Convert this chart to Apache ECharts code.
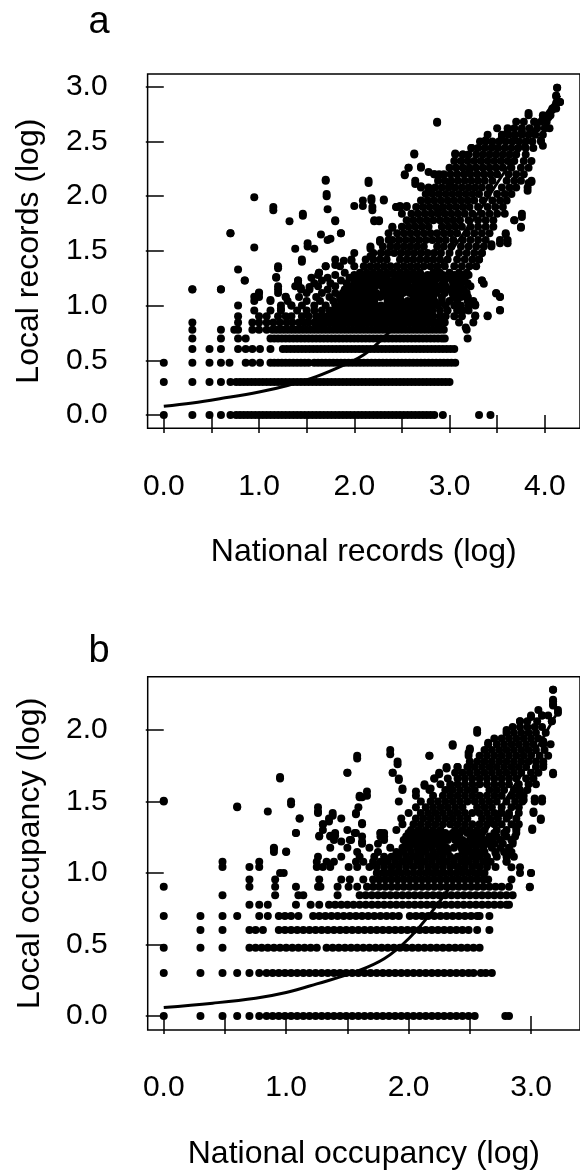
<!DOCTYPE html>
<html><head><meta charset="utf-8">
<script src="https://cdn.jsdelivr.net/npm/echarts@6.0.0/dist/echarts.min.js"></script>
<style>html,body{margin:0;padding:0;background:#fff}#c{width:580px;height:1171px}</style>
</head><body><div id="c"></div>
<script>
// ---- axis ticks / labels ----
const A_X_TICKS = [0, 0.5, 1, 1.5, 2, 2.5, 3, 3.5, 4];
const A_X_LABELS = [0, 1, 2, 3, 4];
const A_Y_TICKS = [0, 0.5, 1, 1.5, 2, 2.5, 3];
const B_X_TICKS = [0, 0.5, 1, 1.5, 2, 2.5, 3];
const B_X_LABELS = [0, 1, 2, 3];
const B_Y_TICKS = [0, 0.5, 1, 1.5, 2];

// ---- panel a: local records (y level) vs national records (x values) ----
const A_LEVELS = [
 [0, [0,0.30,0.48,0.60,0.70,0.76,0.80,0.84,0.88,0.92,0.96,1.00,1.04,1.08,1.12,1.16,1.20,1.24,1.28,1.32,1.36,1.40,1.44,1.48,1.52,1.56,1.60,1.64,1.68,1.72,1.76,1.80,1.84,1.88,1.92,1.96,2.00,2.04,2.08,2.12,2.16,2.20,2.24,2.28,2.32,2.36,2.40,2.44,2.48,2.52,2.56,2.60,2.64,2.68,2.72,2.76,2.80,2.84,2.93,3.31,3.43]],
 [0.301, [0,0.30,0.48,0.60,0.70,0.76,0.80,0.84,0.88,0.92,0.96,1.00,1.04,1.08,1.12,1.16,1.20,1.24,1.28,1.32,1.36,1.40,1.44,1.48,1.52,1.56,1.60,1.64,1.68,1.72,1.76,1.80,1.84,1.88,1.92,1.96,2.00,2.04,2.08,2.12,2.16,2.20,2.24,2.28,2.32,2.36,2.40,2.44,2.48,2.52,2.56,2.60,2.64,2.68,2.72,2.76,2.80,2.84,2.88,2.92,2.96,3.00]],
 [0.477, [0,0.30,0.48,0.60,0.69,0.86,0.93,1.01,1.12,1.16,1.20,1.24,1.28,1.32,1.36,1.40,1.44,1.48,1.52,1.58,1.62,1.66,1.70,1.74,1.78,1.82,1.86,1.90,1.94,1.98,2.02,2.06,2.10,2.14,2.18,2.22,2.26,2.30,2.34,2.38,2.42,2.46,2.50,2.54,2.58,2.62,2.66,2.70,2.74,2.78,2.82,2.86,2.90,2.94,2.98,3.02,3.06]],
 [0.602, [0.30,0.48,0.60,0.78,0.86,0.93,1.01,1.12,1.25,1.29,1.33,1.37,1.41,1.45,1.49,1.53,1.57,1.61,1.65,1.69,1.73,1.77,1.81,1.85,1.89,1.93,1.97,2.01,2.05,2.09,2.13,2.17,2.21,2.25,2.29,2.33,2.37,2.41,2.45,2.49,2.53,2.57,2.61,2.65,2.69,2.73,2.77,2.81,2.85,2.89,2.93,2.97,3.01,3.05]],
 [0.699, [0.30,0.60,0.78,0.86,1.12,1.16,1.20,1.24,1.28,1.32,1.36,1.40,1.44,1.48,1.52,1.56,1.60,1.64,1.68,1.72,1.76,1.80,1.84,1.88,1.92,1.96,2.00,2.04,2.08,2.12,2.16,2.20,2.24,2.28,2.32,2.36,2.40,2.44,2.48,2.52,2.56,2.60,2.64,2.68,2.72,2.76,2.80,2.84,2.88,2.92,2.95,3.19]],
 [0.778, [0.30,0.60,0.74,0.78,0.93,1.00,1.08,1.14,1.18,1.22,1.26,1.30,1.34,1.38,1.42,1.46,1.50,1.54,1.58,1.62,1.66,1.70,1.74,1.78,1.82,1.86,1.90,1.94,1.98,2.02,2.06,2.10,2.14,2.18,2.22,2.26,2.30,2.34,2.38,2.42,2.46,2.50,2.54,2.58,2.62,2.66,2.70,2.74,2.78,2.82,2.86,2.90,2.94,3.18]],
 [0.845, [0.30,0.78,0.93,1.00,1.08,1.15,1.22,1.29,1.35,1.42,1.47,1.52,1.58,1.62,1.66,1.70,1.74,1.78,1.82,1.86,1.90,1.94,1.98,2.02,2.06,2.10,2.14,2.18,2.22,2.26,2.30,2.34,2.38,2.42,2.46,2.50,2.54,2.58,2.62,2.66,2.70,2.74,2.78,2.82,2.86,2.90,2.95,3.10,3.25]],
 [0.903, [0.78,1.00,1.08,1.20,1.28,1.34,1.45,1.52,1.60,1.66,1.72,1.78,1.83,1.88,1.93,1.98,2.03,2.08,2.13,2.18,2.23,2.28,2.33,2.38,2.43,2.48,2.53,2.58,2.63,2.68,2.73,2.78,2.83,2.90,2.96,3.05,3.13,3.27,3.40]],
 [0.954, [0.95,1.12,1.23,1.40,1.50,1.58,1.66,1.74,1.80,1.86,1.92,1.98,2.04,2.10,2.16,2.22,2.28,2.34,2.40,2.46,2.52,2.58,2.64,2.70,2.76,2.82,2.90,2.98,3.08,3.14,3.20,3.53]],
 [1.0, [0.78,1.23,1.34,1.45,1.58,1.70,1.80,1.86,1.92,1.98,2.04,2.10,2.16,2.22,2.28,2.34,2.40,2.46,2.52,2.58,2.64,2.70,2.76,2.82,2.88,2.96,3.05,3.12,3.20,3.27]],
 [1.041, [0.95,1.12,1.30,1.50,1.64,1.78,1.86,1.93,2.00,2.07,2.14,2.21,2.35,2.42,2.49,2.56,2.63,2.70,2.77,2.84,2.92,3.00,3.08,3.19,3.25]],
 [1.079, [1.00,1.28,1.42,1.60,1.74,1.85,1.92,1.99,2.06,2.13,2.20,2.27,2.34,2.41,2.48,2.62,2.69,2.76,2.83,2.92,3.04,3.12,3.19,3.53]],
 [1.114, [1.00,1.20,1.50,1.66,1.80,1.88,1.95,2.02,2.09,2.16,2.23,2.30,2.37,2.44,2.51,2.58,2.65,2.72,2.79,2.86,2.95,3.03,3.10,3.18,3.49]],
 [1.146, [0.30,0.60,1.20,1.44,1.53,1.72,1.90,1.97,2.04,2.11,2.18,2.32,2.39,2.46,2.53,2.60,2.67,2.74,2.81,2.90,3.00,3.08,3.15]],
 [1.176, [1.20,1.38,1.62,1.80,1.94,2.01,2.08,2.15,2.22,2.29,2.36,2.43,2.50,2.57,2.64,2.71,2.78,2.86,2.96,3.04,3.12,3.22]],
 [1.204, [1.41,1.58,1.75,1.92,2.00,2.07,2.14,2.21,2.28,2.35,2.42,2.49,2.56,2.70,2.77,2.84,2.93,3.04,3.11,3.19]],
 [1.230, [0.85,1.41,1.66,1.86,2.00,2.07,2.14,2.21,2.28,2.35,2.42,2.49,2.56,2.63,2.70,2.77,2.85,2.95,3.03,3.12,3.34]],
 [1.255, [1.18,1.55,1.72,1.95,2.04,2.11,2.18,2.25,2.32,2.46,2.53,2.60,2.67,2.74,2.81,2.90,3.00,3.08,3.16]],
 [1.279, [1.62,1.80,2.00,2.07,2.14,2.21,2.28,2.35,2.42,2.49,2.56,2.63,2.70,2.77,2.84,2.93,3.05,3.13,3.20]],
 [1.301, [1.63,1.90,2.06,2.13,2.20,2.27,2.34,2.41,2.48,2.55,2.62,2.69,2.83,2.90,3.00,3.10,3.18]],
 [1.36, [1.20,1.70,1.85,2.00,2.10,2.17,2.24,2.31,2.38,2.45,2.52,2.59,2.66,2.73,2.80,2.87,2.95,3.05,3.13,3.21,3.28]],
 [1.42, [1.45,1.80,1.97,2.12,2.20,2.27,2.34,2.48,2.55,2.62,2.69,2.76,2.83,2.90,2.98,3.08,3.16,3.24,3.31]],
 [1.48, [2.00,2.20,2.28,2.35,2.42,2.49,2.56,2.63,2.70,2.77,2.84,2.91,3.00,3.10,3.18,3.26,3.34]],
 [1.54, [1.51,2.17,2.30,2.38,2.45,2.52,2.59,2.66,2.73,2.87,2.94,3.02,3.12,3.20,3.28,3.36,3.44]],
 [1.60, [1.72,2.27,2.40,2.47,2.54,2.61,2.68,2.75,2.82,2.89,2.96,3.04,3.14,3.22,3.30,3.38,3.53,3.61]],
 [1.66, [0.70,1.86,2.36,2.45,2.52,2.59,2.66,2.73,2.80,2.87,2.94,3.01,3.08,3.18,3.26,3.34,3.42,3.59]],
 [1.72, [2.40,2.50,2.57,2.64,2.71,2.78,2.92,2.99,3.06,3.13,3.22,3.30,3.38,3.46,3.75]],
 [1.78, [1.80,2.21,2.26,2.55,2.62,2.69,2.76,2.83,2.90,2.97,3.04,3.11,3.20,3.30,3.38,3.46,3.68]],
 [1.84, [1.46,2.50,2.60,2.67,2.74,2.81,2.88,2.95,3.02,3.09,3.16,3.24,3.34,3.42,3.50,3.58,3.76]],
 [1.90, [1.15,2.19,2.44,2.48,2.55,2.65,2.72,2.79,2.86,2.93,3.00,3.07,3.14,3.21,3.30,3.40,3.48,3.56]],
 [1.96, [2.09,2.18,2.31,2.70,2.77,2.84,2.91,2.98,3.05,3.12,3.19,3.26,3.35,3.45,3.53,3.60]],
 [2.02, [1.71,2.75,2.82,2.89,2.96,3.03,3.10,3.17,3.24,3.31,3.40,3.50,3.58,3.65]],
 [2.08, [2.70,2.78,2.85,2.92,2.99,3.06,3.13,3.20,3.27,3.34,3.42,3.55,3.63,3.70,3.82]],
 [2.14, [1.70,2.15,2.64,2.88,2.95,3.02,3.09,3.16,3.23,3.30,3.37,3.45,3.60,3.68,3.75,3.86]],
 [2.20, [2.53,2.84,2.89,2.94,3.01,3.08,3.15,3.22,3.29,3.36,3.43,3.50,3.62,3.70,3.78]],
 [2.26, [2.57,2.70,3.00,3.07,3.14,3.21,3.28,3.35,3.42,3.49,3.56,3.65,3.75,3.83]],
 [2.32, [3.05,3.12,3.19,3.26,3.33,3.40,3.47,3.54,3.61,3.68,3.78,3.86]],
 [2.38, [2.63,3.06,3.14,3.20,3.28,3.35,3.42,3.49,3.56,3.63,3.70,3.80]],
 [2.44, [3.23,3.30,3.37,3.44,3.51,3.58,3.65,3.72,3.80,3.88]],
 [2.50, [3.32,3.38,3.45,3.52,3.59,3.66,3.73,3.80,3.87,3.96]],
 [2.56, [3.40,3.55,3.62,3.69,3.76,3.83,3.90,3.98]],
 [2.62, [3.50,3.61,3.68,3.76,3.84,3.92,4.00,4.05]],
 [2.68, [2.87,3.70,3.78,3.89,3.96,4.02]],
 [2.74, [3.83,3.98,4.06]],
 [2.80, [4.08,4.12]],
 [2.86, [4.13,4.16]],
 [2.92, [4.12]],
 [2.99, [4.13]]
];
const A_EXTRA = [[0.30,1.15],[0.60,1.15],[0.70,1.66],[0.95,1.99],[0.95,1.53],[0.78,1.33],[0.85,1.23],[0.95,1.08],[1.00,1.12],[1.12,1.05],[1.15,1.87],[1.32,1.77],[1.46,1.82],[1.38,1.52],[1.45,1.40],[1.51,1.57],[1.58,1.52],[1.65,1.65],[1.70,2.15],[1.71,2.00],[1.72,1.88],[1.80,1.77],[1.75,1.61],[1.86,1.66],[1.18,1.26],[1.20,1.34],[1.28,1.08],[1.23,0.97],[1.34,1.00],[1.41,1.23],[1.44,1.16],[1.53,1.17],[1.63,1.30],[1.70,1.36],[1.80,1.37],[1.89,1.41],[1.97,1.41],[2.00,1.91],[2.09,1.91],[2.15,2.12],[2.18,1.98],[2.31,1.97],[2.19,1.87],[2.21,1.77],[2.26,1.77],[2.17,1.52],[2.17,1.45],[2.27,1.58],[2.36,1.60],[2.40,1.71],[2.44,1.90],[2.48,1.91],[2.55,1.91],[2.53,2.19],[2.57,2.26],[2.63,2.39],[2.70,2.27],[2.64,2.11],[2.70,2.09],[2.87,2.67],[2.78,2.22],[2.84,2.20],[2.89,2.19],[2.88,1.87],[2.78,2.06],[3.00,2.12],[3.06,2.39],[3.14,2.38],[3.23,2.44],[3.21,2.24],[3.38,2.51],[3.45,2.45],[3.55,2.54],[3.61,2.59],[3.68,2.51],[3.76,2.59],[3.83,2.76],[3.89,2.68],[3.98,2.71],[3.96,2.51],[3.98,2.46],[4.04,2.72],[4.08,2.79],[4.12,2.85],[4.16,2.86],[4.13,2.99],[4.12,2.91],[3.83,2.12],[3.86,2.13],[3.82,2.05],[3.76,1.81],[3.75,1.71],[3.68,1.78],[3.61,1.57],[3.53,1.57],[3.59,1.65],[3.44,1.56],[3.34,1.48],[3.31,1.42],[3.34,1.23],[3.36,1.20],[3.49,1.11],[3.53,1.08],[3.53,0.96],[3.40,0.91],[3.27,1.01],[3.19,1.08],[3.27,0.91],[3.17,0.80]];
const A_CURVE_X = [0, 0.3, 0.6, 1.0, 1.3, 1.6, 1.9, 2.1, 2.3, 2.5, 2.7, 3.0, 3.3, 3.6, 3.95, 4.16];
const A_CURVE_Y = [0.08, 0.11, 0.15, 0.21, 0.27, 0.35, 0.46, 0.55, 0.70, 0.88, 1.10, 1.48, 1.85, 2.25, 2.68, 2.92];

// ---- panel b: local occupancy (y level) vs national occupancy (x values) ----
const B_LEVELS = [
 [0, [0,0.30,0.48,0.60,0.70,0.78,0.84,0.89,0.94,0.99,1.04,1.09,1.14,1.19,1.24,1.29,1.34,1.39,1.44,1.49,1.54,1.59,1.64,1.69,1.74,1.79,1.84,1.89,1.94,1.99,2.04,2.09,2.14,2.19,2.24,2.29,2.34,2.39,2.44,2.49,2.54,2.79,2.82]],
 [0.301, [0,0.30,0.48,0.60,0.70,0.78,0.84,0.89,0.94,0.99,1.04,1.09,1.14,1.19,1.24,1.29,1.34,1.39,1.44,1.49,1.54,1.59,1.64,1.69,1.74,1.79,1.84,1.89,1.94,1.99,2.04,2.09,2.14,2.19,2.24,2.29,2.34,2.39,2.44,2.49,2.53,2.59,2.63,2.68]],
 [0.477, [0,0.30,0.48,0.70,0.75,0.80,0.85,0.90,0.95,1.00,1.05,1.10,1.15,1.20,1.25,1.33,1.38,1.43,1.48,1.53,1.58,1.63,1.68,1.73,1.78,1.83,1.88,1.93,1.98,2.03,2.08,2.13,2.18,2.23,2.28,2.33,2.38,2.43,2.48,2.53,2.58]],
 [0.602, [0.30,0.48,0.70,0.75,0.81,0.94,0.99,1.04,1.09,1.14,1.19,1.24,1.29,1.34,1.39,1.44,1.49,1.54,1.59,1.64,1.69,1.74,1.79,1.84,1.89,1.94,1.99,2.04,2.09,2.14,2.19,2.24,2.29,2.34,2.39,2.44,2.49,2.56,2.66]],
 [0.699, [0,0.30,0.48,0.60,0.78,0.85,0.94,0.99,1.04,1.10,1.22,1.27,1.32,1.37,1.42,1.47,1.52,1.57,1.62,1.67,1.72,1.77,1.82,1.87,1.92,2.01,2.06,2.11,2.16,2.21,2.26,2.31,2.36,2.41,2.46,2.51,2.56,2.58,2.66]],
 [0.778, [0.70,0.78,0.85,1.08,1.20,1.27,1.35,1.40,1.45,1.50,1.55,1.60,1.65,1.70,1.75,1.80,1.85,1.90,1.95,2.00,2.05,2.10,2.15,2.20,2.25,2.30,2.35,2.40,2.45,2.50,2.55,2.60,2.65,2.70,2.75,2.80,2.82]],
 [0.845, [0.48,0.91,1.10,1.14,1.42,1.60,1.65,1.70,1.75,1.80,1.85,1.90,1.95,2.00,2.05,2.10,2.15,2.20,2.25,2.30,2.35,2.40,2.45,2.50,2.55,2.60,2.65,2.70,2.75,2.80,2.85]],
 [0.903, [0,0.70,0.91,1.08,1.26,1.28,1.42,1.51,1.58,1.66,1.71,1.76,1.81,1.86,1.91,1.96,2.01,2.06,2.11,2.16,2.21,2.26,2.31,2.36,2.41,2.46,2.51,2.56,2.61,2.66,2.71,2.76,2.82,2.99]],
 [0.954, [0.70,0.91,1.27,1.45,1.52,1.63,1.71,1.76,1.81,1.86,1.91,1.96,2.01,2.06,2.11,2.16,2.21,2.26,2.31,2.36,2.41,2.46,2.51,2.56,2.61,2.65,2.84]],
 [1.0, [0.95,0.98,1.74,1.79,1.84,1.89,1.94,1.99,2.04,2.09,2.14,2.19,2.24,2.29,2.34,2.39,2.44,2.49,2.54,2.58,2.62,2.91,3.00]],
 [1.041, [0.48,0.70,0.78,1.25,1.30,1.36,1.51,1.58,1.68,1.74,1.80,1.86,1.92,1.98,2.04,2.10,2.16,2.22,2.28,2.34,2.40,2.46,2.52,2.58,2.64,2.71]],
 [1.079, [0.48,0.78,1.25,1.33,1.39,1.57,1.63,1.71,1.77,1.83,1.89,1.95,2.01,2.07,2.13,2.19,2.25,2.31,2.37,2.43,2.49,2.55,2.61,2.67,2.80]],
 [1.114, [1.26,1.45,1.60,1.72,1.80,1.86,1.92,1.98,2.04,2.10,2.16,2.22,2.28,2.34,2.40,2.46,2.52,2.58,2.64,2.72,2.80,2.86]],
 [1.146, [0.90,1.00,1.58,1.75,1.90,1.96,2.02,2.08,2.14,2.20,2.26,2.32,2.44,2.50,2.56,2.62,2.71,2.78,2.84]],
 [1.176, [0.90,1.36,1.50,1.68,1.85,1.95,2.01,2.07,2.13,2.19,2.25,2.31,2.37,2.43,2.49,2.55,2.61,2.68,2.75,2.82]],
 [1.204, [1.62,1.75,1.98,2.04,2.10,2.16,2.22,2.28,2.40,2.46,2.52,2.58,2.64,2.70,2.77,2.85]],
 [1.230, [1.39,1.52,1.80,1.96,2.02,2.08,2.14,2.20,2.26,2.32,2.38,2.44,2.50,2.56,2.62,2.68,2.75,2.84]],
 [1.255, [1.27,1.36,1.62,1.77,1.80,1.98,2.04,2.10,2.16,2.22,2.28,2.34,2.40,2.52,2.58,2.66,2.72,2.80,2.87]],
 [1.279, [1.08,1.40,1.57,1.77,2.00,2.06,2.12,2.18,2.24,2.30,2.36,2.42,2.48,2.54,2.60,2.70,2.78,2.88]],
 [1.301, [1.30,1.50,1.90,2.02,2.08,2.14,2.20,2.26,2.38,2.44,2.50,2.56,2.62,2.72,2.80,2.88,3.01]],
 [1.34, [1.30,1.62,1.95,2.04,2.10,2.16,2.22,2.28,2.34,2.40,2.46,2.52,2.58,2.64,2.70,2.76,2.84,2.90]],
 [1.38, [1.11,1.35,1.45,1.94,2.06,2.12,2.18,2.24,2.30,2.36,2.42,2.48,2.60,2.66,2.73,2.80,2.88,3.08]],
 [1.42, [1.26,1.38,1.57,2.00,2.10,2.16,2.22,2.28,2.34,2.40,2.46,2.52,2.58,2.64,2.70,2.76,2.82,2.90,3.02]],
 [1.46, [0.60,1.26,1.59,2.06,2.14,2.20,2.26,2.32,2.38,2.44,2.56,2.62,2.68,2.76,2.84,2.90]],
 [1.50, [0,1.04,1.92,2.10,2.18,2.24,2.30,2.36,2.42,2.48,2.54,2.60,2.66,2.72,2.80,2.87,2.93,3.03,3.09]],
 [1.54, [1.60,1.66,2.06,2.20,2.28,2.34,2.40,2.46,2.52,2.58,2.64,2.70,2.76,2.84,2.90,2.94]],
 [1.58, [1.95,2.17,2.30,2.36,2.42,2.48,2.54,2.66,2.72,2.78,2.86,2.91,2.97]],
 [1.62, [2.13,2.26,2.34,2.40,2.46,2.52,2.58,2.64,2.70,2.76,2.82,2.90,2.98,3.04]],
 [1.66, [0.95,1.92,2.21,2.32,2.40,2.46,2.52,2.58,2.64,2.70,2.76,2.82,2.88,2.96,3.02]],
 [1.70, [1.50,1.87,2.25,2.38,2.44,2.50,2.56,2.62,2.68,2.74,2.80,2.86,2.92,3.00,3.06,3.18]],
 [1.74, [2.31,2.40,2.48,2.54,2.60,2.66,2.72,2.78,2.84,2.90,2.96,3.04,3.10]],
 [1.78, [1.91,2.50,2.56,2.62,2.68,2.74,2.80,2.86,2.92,2.98,3.04,3.10]],
 [1.82, [1.58,2.17,2.49,2.58,2.64,2.70,2.76,2.82,2.88,2.94,3.00,3.07,3.14]],
 [1.86, [1.85,2.50,2.62,2.68,2.74,2.80,2.86,2.92,2.98,3.04,3.11]],
 [1.90, [2.36,2.65,2.72,2.78,2.84,2.90,2.96,3.02,3.10,3.16]],
 [1.94, [2.70,2.76,2.82,2.88,2.94,3.00,3.06]],
 [1.98, [2.56,2.80,2.86,2.92,2.98,3.04,3.12]],
 [2.02, [2.85,2.91,2.97,3.03,3.09]],
 [2.06, [2.91,2.97,3.05,3.17]],
 [2.10, [3.00,3.09,3.14]],
 [2.14, [3.06,3.22]],
 [2.18, [3.18]],
 [2.21, [3.18]],
 [2.28, [3.18]]
];
const B_EXTRA = [[0.95,1.67],[1.04,1.48],[1.11,1.38],[0.90,1.17],[1.00,1.15],[1.08,1.28],[1.26,1.43],[1.27,1.26],[1.30,1.34],[1.35,1.36],[1.38,1.40],[1.36,1.26],[1.40,1.26],[1.45,1.22],[1.50,1.70],[1.58,1.80],[1.57,1.41],[1.60,1.53],[1.62,1.53],[1.66,1.57],[1.62,1.35],[1.62,1.22],[1.53,1.23],[1.56,1.28],[1.77,1.28],[1.80,1.28],[1.85,1.83],[1.87,1.70],[1.91,1.76],[1.92,1.65],[1.95,1.59],[2.06,1.57],[2.17,1.82],[2.13,1.61],[2.18,1.59],[2.21,1.66],[2.25,1.69],[2.31,1.73],[2.36,1.89],[2.34,1.60],[2.40,1.74],[2.49,1.84],[2.50,1.87],[2.56,2.00],[2.65,1.91],[2.80,2.00],[2.91,2.06],[3.00,2.09],[3.09,2.10],[3.18,2.28],[3.18,2.20],[3.18,2.17],[3.22,2.12],[3.10,1.92],[3.17,2.06],[3.18,1.69],[3.10,1.76],[3.03,1.52],[3.09,1.52],[3.02,1.43],[3.08,1.37],[3.01,1.31],[2.91,1.04],[3.00,1.00],[2.99,0.90],[2.84,1.04],[2.80,1.08],[2.85,1.22],[2.88,1.31],[2.75,1.23],[2.71,1.14],[2.82,1.40],[2.91,1.56],[2.94,1.51],[0.85,1.43],[0.60,1.465],[0,1.505]];
const B_CURVE_X = [0, 0.4, 0.75, 1.0, 1.25, 1.57, 1.8, 2.0, 2.2, 2.4, 2.6, 2.8, 3.0, 3.2];
const B_CURVE_Y = [0.06, 0.09, 0.125, 0.165, 0.225, 0.31, 0.40, 0.54, 0.74, 0.98, 1.25, 1.52, 1.80, 2.10];

// ---- build ----
function expand(levels, extra) {
  const out = [];
  levels.forEach(([y, xs]) => xs.forEach(x => out.push([x, y])));
  extra.forEach(p => out.push(p));
  return out;
}
function zip(xs, ys) { return xs.map((x, i) => [x, ys[i]]); }

const FONT = '"Liberation Sans", Arial, Helvetica, sans-serif';
const fmt = v => Number(v).toFixed(1);

function xAxisCfg(gi, min, max, ticks, labels, name) {
  return {
    type: 'value', gridIndex: gi, min, max,
    splitLine: { show: false },
    axisLine: { show: false },
    axisTick: { show: true, length: 18, customValues: ticks, lineStyle: { color: '#000', width: 1.5 } },
    axisLabel: { customValues: labels, formatter: fmt, color: '#000', fontSize: 30, fontFamily: FONT, margin: 43 },
    name, nameLocation: 'middle', nameGap: 108,
    nameTextStyle: { color: '#000', fontSize: 32, fontFamily: FONT }
  };
}
function yAxisCfg(gi, min, max, ticks, name) {
  return {
    type: 'value', gridIndex: gi, min, max,
    splitLine: { show: false },
    axisLine: { show: false },
    axisTick: { show: true, length: 18, customValues: ticks, lineStyle: { color: '#000', width: 1.5 } },
    axisLabel: { customValues: ticks, formatter: fmt, color: '#000', fontSize: 30, fontFamily: FONT, margin: 40 },
    name, nameLocation: 'middle', nameGap: 102,
    nameTextStyle: { color: '#000', fontSize: 32, fontFamily: FONT }
  };
}

const chart = echarts.init(document.getElementById('c'), null, { renderer: 'canvas' });
chart.setOption({
  animation: false,
  backgroundColor: '#fff',
  grid: [
    { left: 147.6, top: 74, width: 444.9, height: 354.3, show: true, borderColor: '#000', borderWidth: 1.5, backgroundColor: 'transparent' },
    { left: 147.7, top: 676.7, width: 446.9, height: 354, show: true, borderColor: '#000', borderWidth: 1.5, backgroundColor: 'transparent' }
  ],
  xAxis: [
    xAxisCfg(0, -0.17, 4.37, A_X_TICKS, A_X_LABELS, 'National records (log)'),
    xAxisCfg(1, -0.131, 3.40, B_X_TICKS, B_X_LABELS, 'National occupancy (log)')
  ],
  yAxis: [
    yAxisCfg(0, -0.1215, 3.116, A_Y_TICKS, 'Local records (log)'),
    yAxisCfg(1, -0.0977, 2.372, B_Y_TICKS, 'Local occupancy (log)')
  ],
  graphic: [
    { type: 'text', x: 99, y: 22.5, style: { text: 'a', font: '38px ' + FONT, fill: '#000', align: 'center', verticalAlign: 'middle' } },
    { type: 'text', x: 99, y: 651.5, style: { text: 'b', font: '38px ' + FONT, fill: '#000', align: 'center', verticalAlign: 'middle' } }
  ],
  series: [
    { type: 'scatter', xAxisIndex: 0, yAxisIndex: 0, data: expand(A_LEVELS, A_EXTRA), symbolSize: 8, itemStyle: { color: '#000', opacity: 1 }, silent: true },
    { type: 'line', xAxisIndex: 0, yAxisIndex: 0, data: zip(A_CURVE_X, A_CURVE_Y), smooth: 0.4, showSymbol: false, lineStyle: { color: '#000', width: 3 }, z: 5, silent: true },
    { type: 'scatter', xAxisIndex: 1, yAxisIndex: 1, data: expand(B_LEVELS, B_EXTRA), symbolSize: 8, itemStyle: { color: '#000', opacity: 1 }, silent: true },
    { type: 'line', xAxisIndex: 1, yAxisIndex: 1, data: zip(B_CURVE_X, B_CURVE_Y), smooth: 0.4, showSymbol: false, lineStyle: { color: '#000', width: 3 }, z: 5, silent: true }
  ]
});
</script></body></html>
